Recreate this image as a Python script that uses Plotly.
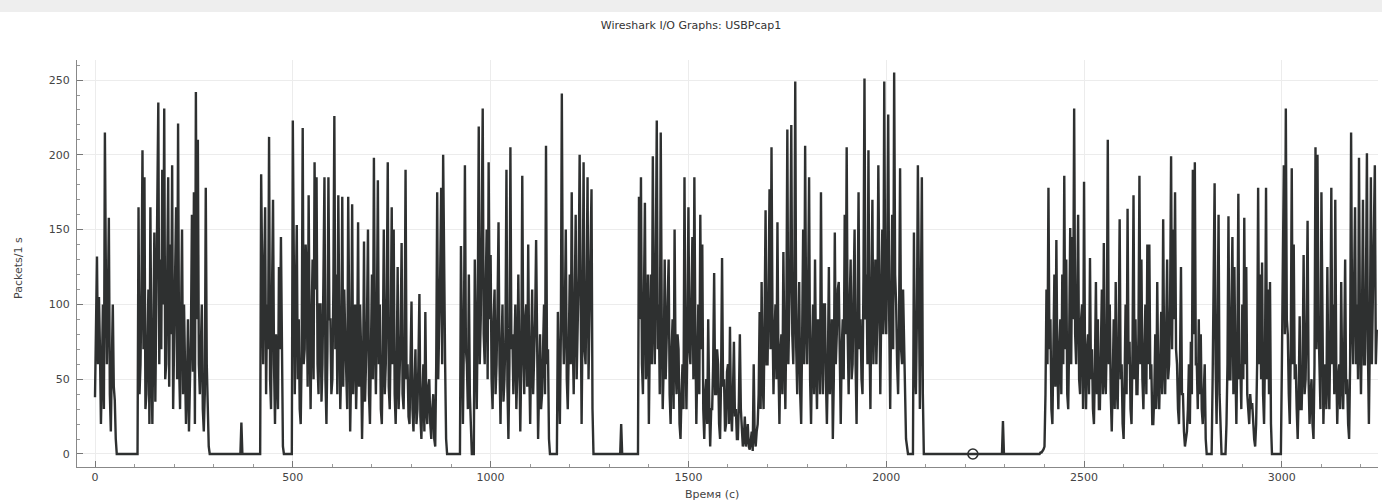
import plotly.graph_objects as go

# 2.5-second bins, one row per 100 s (40 values per row)
BIN = 2.5
rows = [
    [38,90,132,60,105,70,20,55,100,30,215,120,60,100,158,40,15,60,100,45,36,10,0,0,0,0,0,0,0,0,0,0,0,0,0,0,0,0,0,0],
    [0,0,0,0,165,40,60,110,203,70,185,30,40,95,110,20,165,60,20,80,148,35,90,160,235,60,130,70,190,100,231,50,60,120,185,45,140,80,193,30],
    [70,120,165,50,221,60,30,90,150,40,100,60,20,45,90,15,50,80,160,55,175,20,242,90,210,60,40,70,100,30,15,40,178,60,30,5,0,0,0,0],
    [0,0,0,0,0,0,0,0,0,0,0,0,0,0,0,0,0,0,0,0,0,0,0,0,0,0,0,0,21,0,0,0,0,0,0,0,0,0,0,0],
    [0,0,0,0,0,0,0,0,187,90,60,120,165,40,100,70,212,50,30,110,170,60,20,80,60,30,125,70,145,40,5,0,0,0,0,0,0,0,0,0],
    [223,80,40,100,153,50,90,30,20,70,218,60,70,140,120,45,173,80,30,90,130,50,195,110,185,60,40,100,100,35,60,120,185,50,20,70,185,90,90,40],
    [50,110,226,70,120,40,173,90,30,60,172,45,110,80,60,30,172,70,15,55,167,40,80,100,30,60,155,45,100,70,10,50,142,35,60,90,150,40,20,70],
    [120,50,198,80,40,90,183,60,100,30,20,70,150,40,60,110,195,45,30,80,165,60,150,40,20,55,125,30,50,80,141,40,30,70,190,50,60,25,20,60],
    [102,30,15,45,70,20,30,60,107,25,10,40,60,15,95,30,20,45,50,20,10,30,40,10,5,60,175,50,80,120,178,60,200,90,60,10,0,0,0,0],
    [0,0,0,0,0,0,0,0,0,0,139,50,20,80,193,70,60,30,120,40,15,0,0,0,130,70,30,100,219,60,90,150,231,80,60,110,150,50,195,90],
    [133,50,30,90,110,40,60,100,155,60,20,70,100,35,50,80,190,45,10,60,205,70,80,40,70,100,30,55,120,40,15,60,186,75,40,90,100,45,140,60],
    [20,70,110,40,60,90,143,50,10,45,80,30,40,70,100,40,206,60,70,10,0,0,0,0,0,0,0,0,95,40,20,80,241,100,60,90,150,50,30,70],
    [120,60,175,80,40,100,160,50,80,120,200,60,20,90,195,70,60,110,185,50,100,140,177,30,0,0,0,0,0,0,0,0,0,0,0,0,0,0,0,0],
    [0,0,0,0,0,0,0,0,0,0,0,0,20,0,0,0,0,0,0,0,0,0,0,0,0,0,0,0,0,0,172,90,185,60,40,110,168,50,60,120],
    [20,80,120,60,199,90,60,130,223,70,100,40,215,90,30,60,130,50,80,110,130,40,20,70,90,30,150,60,40,80,70,20,10,40,60,30,185,70,30,80],
    [165,70,60,100,145,50,185,80,20,60,100,40,160,70,140,30,10,40,50,20,90,35,5,30,30,60,121,40,40,70,60,20,10,50,131,45,50,15,20,55],
    [60,20,85,30,15,40,75,25,30,10,10,35,80,30,20,5,10,25,5,10,20,5,3,10,15,2,60,10,5,15,20,40,95,30,115,50,30,90,163,60],
    [60,110,177,70,205,90,40,80,100,50,155,60,20,70,80,40,135,70,30,90,217,60,90,130,220,80,60,100,249,70,40,90,115,40,20,80,150,60,206,90],
    [60,110,185,50,20,70,100,40,130,60,30,90,80,40,175,70,40,100,100,50,20,60,125,40,60,90,10,50,148,60,80,110,115,40,20,70,90,50,160,80],
    [205,80,40,100,130,50,60,110,150,60,20,90,175,70,90,50,40,120,251,90,120,60,203,80,30,110,170,60,100,130,60,90,193,70,40,100,150,80,249,100],
    [80,130,227,90,30,100,160,70,255,120,100,60,40,90,191,70,60,110,80,30,10,5,0,0,0,0,0,0,148,60,40,90,193,70,30,100,185,40,0,0],
    [0,0,0,0,0,0,0,0,0,0,0,0,0,0,0,0,0,0,0,0,0,0,0,0,0,0,0,0,0,0,0,0,0,0,0,0,0,0,0,0],
    [0,0,0,0,0,0,0,0,0,0,0,0,0,0,0,0,0,0,0,0,0,0,0,0,0,0,0,0,0,0,0,0,0,0,0,0,0,0,22,0],
    [0,0,0,0,0,0,0,0,0,0,0,0,0,0,0,0,0,0,0,0,0,0,0,0,0,0,0,0,0,0,0,0,0,0,0,0,1,1,2,3],
    [5,40,110,60,178,70,90,30,20,60,120,45,143,60,30,70,90,40,120,60,186,70,130,40,30,80,151,60,145,90,231,80,60,100,160,50,40,90,100,30],
    [182,60,30,70,80,40,131,50,70,30,20,60,115,40,90,30,30,70,110,40,141,50,40,80,210,60,100,40,15,50,90,30,115,45,30,80,157,50,60,20],
    [10,50,100,40,164,60,75,30,20,70,173,50,90,40,40,80,186,60,130,50,30,70,100,40,140,60,140,50,60,20,20,40,80,30,115,50,30,60,95,40],
    [157,60,40,80,130,50,60,100,199,70,150,90,175,70,60,30,20,60,125,40,40,15,5,10,15,30,60,20,75,40,190,80,195,60,60,30,90,40,80,30],
    [20,40,60,10,0,0,0,0,0,0,50,120,181,60,20,80,160,40,10,0,0,0,0,0,20,60,159,50,50,90,145,40,125,60,20,70,174,50,60,30],
    [100,50,158,60,125,40,30,20,40,30,34,20,10,5,20,60,178,60,120,50,128,40,20,70,178,50,110,40,115,20,0,0,0,0,0,0,0,0,0,0],
    [58,120,193,80,231,90,80,40,20,70,191,60,140,50,60,30,10,40,92,30,30,60,133,40,50,90,156,50,20,40,50,20,10,60,205,70,200,90,60,30],
    [175,60,20,50,60,30,125,50,30,80,178,60,100,40,170,60,20,50,60,30,115,50,30,70,130,40,50,20,10,60,215,90,60,110,165,60,100,50,198,80],
    [40,90,170,60,60,110,201,70,20,80,185,60,100,130,193,60,83],
]
packets = [v for r in rows for v in r]
times = [i * BIN for i in range(len(packets))]

marker_time = [2219]
marker_value = [0]

x_major = [0, 500, 1000, 1500, 2000, 2500, 3000]
y_major = [0, 50, 100, 150, 200, 250]

title_text = "Wireshark I/O Graphs: USBPcap1"
x_title = "Время (с)"
y_title = "Packets/1 s"

LINE = "#2e3030"
fig = go.Figure()
fig.add_trace(go.Scatter(
    x=times, y=packets, mode="lines",
    line=dict(color=LINE, width=2.4),
    hoverinfo="skip", showlegend=False,
))
fig.add_trace(go.Scatter(
    x=marker_time, y=marker_value, mode="markers",
    marker=dict(symbol="circle-open", size=10, color=LINE, line=dict(width=1.6)),
    showlegend=False,
))

font_family = "DejaVu Sans"
PW, PH = 1301, 407
fig.update_layout(
    width=1382, height=504,
    margin=dict(l=77, r=4, t=60, b=37, autoexpand=False),
    paper_bgcolor="white", plot_bgcolor="white",
    title=dict(text=title_text, x=0.5, xanchor="center", y=1 - 25/504, yanchor="middle",
               font=dict(family=font_family, size=11, color="#333333")),
    font=dict(family=font_family, size=11, color="#444444"),
    shapes=[dict(type="rect", xref="paper", yref="paper",
                 x0=-77/PW, x1=1 + 4/PW, y0=1 + 48/PH, y1=1 + 60/PH,
                 fillcolor="#eeeeee", line=dict(width=0), layer="below")],
    annotations=[
        dict(text=y_title, xref="paper", yref="paper", x=(18-77)/PW, y=(467-268)/PH,
             xanchor="center", yanchor="middle", textangle=-90, showarrow=False,
             font=dict(size=11, color="#444444")),
        dict(text=x_title, xref="paper", yref="paper", x=(712-77)/PW, y=-(494-467)/PH,
             xanchor="center", yanchor="middle", showarrow=False,
             font=dict(size=11, color="#444444")),
    ],
)
fig.update_xaxes(
    range=[-45.5, 3243], tickvals=x_major, ticks="inside", ticklen=6, tickcolor="#777777",
    minor=dict(dtick=100, tick0=0, ticks="inside", ticklen=3, tickcolor="#999999", showgrid=False),
    showline=True, linecolor="#888888", linewidth=1, automargin=False,
    showgrid=True, gridcolor="#ececec", gridwidth=1, zeroline=False,
    tickfont=dict(size=11, color="#444444"),
)
fig.update_yaxes(
    range=[-8.7, 263.4], tickvals=y_major, ticks="inside", ticklen=6, tickcolor="#777777",
    minor=dict(dtick=10, tick0=0, ticks="inside", ticklen=3, tickcolor="#999999", showgrid=False),
    showline=True, linecolor="#888888", linewidth=1, automargin=False,
    showgrid=True, gridcolor="#ececec", gridwidth=1, zeroline=False,
    tickfont=dict(size=11, color="#444444"), ticklabelstandoff=4,
)

fig.write_html("out.html", config={"displayModeBar": False},
               post_script="document.body.style.margin='0';document.body.style.overflow='hidden';")
